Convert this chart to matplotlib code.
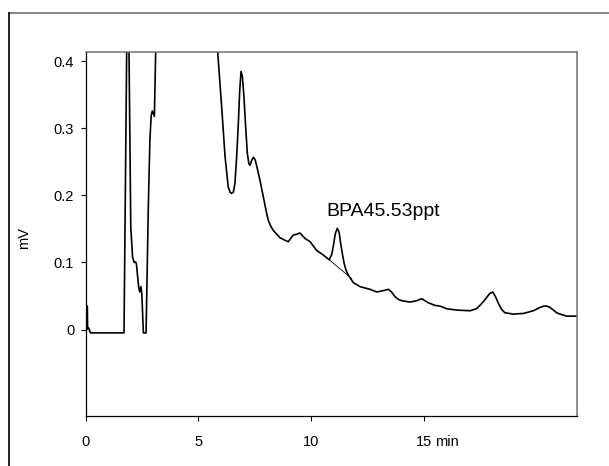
import numpy as np
import matplotlib
matplotlib.use("Agg")
import matplotlib.pyplot as plt
from matplotlib.lines import Line2D

plt.rcParams['font.family'] = ['Liberation Sans', 'DejaVu Sans']

# chromatogram trace (time in min, signal in mV)
t = [0.0, 0.04, 0.05, 0.06, 0.07, 0.12, 0.2, 1.69, 1.81, 1.86, 1.91, 1.99,
     2.07, 2.14, 2.2, 2.24, 2.34, 2.39, 2.44, 2.48, 2.55, 2.67, 2.77, 2.84,
     2.9, 2.95, 3.04, 3.1, 3.3, 5.0, 5.84, 6.03, 6.18, 6.32, 6.40, 6.47,
     6.55, 6.62, 6.70, 6.77, 6.83, 6.89, 6.95, 7.02, 7.10, 7.17, 7.24, 7.29,
     7.37, 7.44, 7.52, 7.58, 7.73, 7.88, 8.00, 8.10, 8.20, 8.32, 8.62, 8.85,
     8.99, 9.10, 9.21, 9.35, 9.51, 9.62, 9.73, 9.96, 10.25, 10.55, 10.81,
     10.92, 10.99, 11.08, 11.17, 11.25, 11.32, 11.40, 11.47, 11.56, 11.66,
     11.88, 12.18, 12.62, 12.92, 13.21, 13.44, 13.58, 13.73, 13.88, 14.03,
     14.4, 14.7, 14.92, 15.21, 15.51, 15.73, 16.03, 16.48, 17.07, 17.35,
     17.51, 17.67, 17.81, 17.95, 18.08, 18.2, 18.33, 18.47, 18.62, 18.99,
     19.44, 19.88, 20.18, 20.35, 20.48, 20.62, 20.77, 20.92, 21.07, 21.36,
     21.92]
mv = [0.002, 0.0, 0.035, 0.035, 0.004, 0.002, -0.005, -0.005, 0.42, 0.9,
      0.42, 0.153, 0.108, 0.1, 0.101, 0.098, 0.064, 0.056, 0.064, 0.054,
      -0.005, -0.005, 0.183, 0.283, 0.32, 0.326, 0.318, 0.42, 1.0, 1.0, 0.42,
      0.332, 0.258, 0.213, 0.205, 0.203, 0.205, 0.218, 0.26, 0.307, 0.355,
      0.385, 0.378, 0.347, 0.30, 0.263, 0.247, 0.245, 0.253, 0.257, 0.253,
      0.245, 0.223, 0.198, 0.178, 0.163, 0.155, 0.148, 0.137, 0.133, 0.131,
      0.136, 0.141, 0.142, 0.144, 0.140, 0.136, 0.131, 0.118, 0.111, 0.104,
      0.112, 0.124, 0.143, 0.151, 0.145, 0.128, 0.112, 0.099, 0.088, 0.081,
      0.070, 0.064, 0.060, 0.056, 0.058, 0.060, 0.056, 0.049, 0.045, 0.043,
      0.041, 0.043, 0.046, 0.040, 0.036, 0.035, 0.031, 0.029, 0.028, 0.031,
      0.036, 0.042, 0.048, 0.054, 0.056, 0.049, 0.039, 0.030, 0.025, 0.023,
      0.024, 0.028, 0.033, 0.035, 0.035, 0.033, 0.029, 0.025, 0.023, 0.020,
      0.020]

# integration baseline under the BPA peak
base_t = [10.81, 11.81]
base_mv = [0.104, 0.076]

xticks = [0, 5, 10, 15]
xlabels = ['0', '5', '10', '15']
yticks = [0, 0.1, 0.2, 0.3, 0.4]
ylabels = ['0', '0.1', '0.2', '0.3', '0.4']

fig = plt.figure(figsize=(6.09, 4.66), dpi=100)
ax = fig.add_axes([0.1412, 0.1073, 0.8062, 0.7811])

ax.plot(t, mv, color='black', lw=1.2, solid_joinstyle='round')
ax.plot(base_t, base_mv, color='black', lw=0.6)

ax.set_xlim(0, 21.82)
ax.set_ylim(-0.129, 0.414)
ax.set_xticks(xticks)
ax.set_xticklabels(xlabels)
ax.set_yticks(yticks)
ax.set_yticklabels(ylabels)
ax.tick_params(axis='both', direction='out', length=3.5, width=0.8,
               labelsize=10.5, colors='black')
ax.tick_params(axis='x', pad=10.5)
ax.tick_params(axis='y', pad=5)

for s in ['left', 'bottom']:
    ax.spines[s].set_color('black')
    ax.spines[s].set_linewidth(0.9)
for s in ['top', 'right']:
    ax.spines[s].set_color('#707070')
    ax.spines[s].set_linewidth(1.1)

ax.annotate('min', xy=(15, 0), xycoords=('data', 'axes fraction'),
            xytext=(8.6, -13.7), textcoords='offset points',
            ha='left', va='top', fontsize=10.5)

ax.set_ylabel('mV', fontsize=10.5)
ax.yaxis.set_label_coords(-0.112, 0.489)

ax.text(10.67, 0.169, 'BPA45.53ppt', fontsize=14, ha='left', va='baseline')

# outer frame lines
fig.add_artist(Line2D([9 / 609, 1.0], [1 - 13 / 466, 1 - 13 / 466],
                      transform=fig.transFigure, color='#707070', lw=1.2))
fig.add_artist(Line2D([9 / 609, 9 / 609], [0.0, 1 - 13 / 466],
                      transform=fig.transFigure, color='black', lw=1.2))

fig.savefig('out.png', dpi=100)
